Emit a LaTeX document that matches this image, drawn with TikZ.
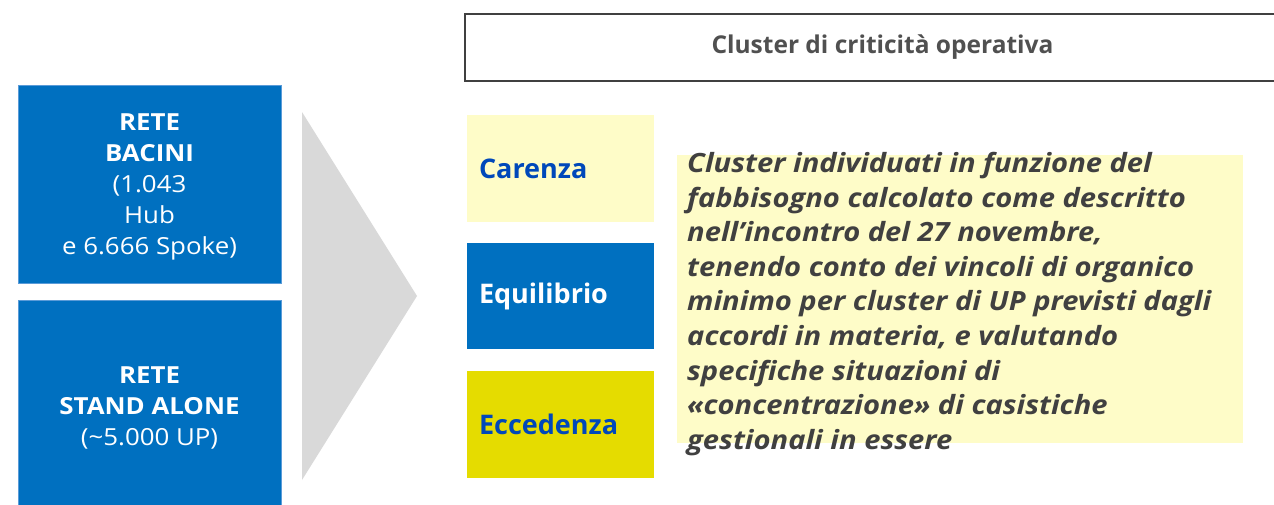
\documentclass[tikz,border=0pt]{standalone}
\usepackage{fontspec}
\setmainfont{Open Sans}
\newfontfamily\titlefont{Open Sans}
\newfontfamily\widefont[FakeStretch=1.1]{Open Sans}
\definecolor{boxblue}{HTML}{0070C0}
\definecolor{edgeblue}{HTML}{5A9BD8}
\definecolor{lblblue}{HTML}{0048BA}
\definecolor{paleyellow}{HTML}{FEFCC8}
\definecolor{strongyellow}{HTML}{E5DC00}
\definecolor{arrowgray}{HTML}{D9D9D9}
\definecolor{textgray}{HTML}{404040}
\definecolor{titlegray}{HTML}{505050}
\definecolor{framegray}{HTML}{404040}
\tikzset{
  retebox/.style={fill=boxblue, draw=edgeblue, line width=1pt,
    minimum width=263pt, inner sep=0pt},
  retetext/.style={text=white, inner sep=0pt, align=center,
    font=\widefont\fontsize{23.5}{31}\selectfont},
  clusterbox/.style={minimum width=187pt, text width=163pt, inner xsep=12pt,
    inner ysep=0pt, align=left, font=\fontsize{27}{30}\selectfont\bfseries},
}
\begin{document}
\begin{tikzpicture}[x=1pt,y=-1pt]
\useasboundingbox (0,0) rectangle (1274,504);
% left blue boxes
\node[retebox, minimum height=198pt] (bacini) at (149.5,184) {};
\node[retetext] (bacinitxt) at (149.5,187)
  {\textbf{RETE}\\\textbf{BACINI}\\(1.043\\Hub\\e 6.666 Spoke)};
\node[retebox, minimum height=212pt] (standalone) at (149.5,406) {};
\node[retetext] (standalonetxt) at (149.5,408)
  {\textbf{RETE}\\\textbf{STAND ALONE}\\(\textasciitilde5.000 UP)};
% big gray arrow head
\fill[arrowgray] (302,112) -- (417,296) -- (302,480) -- cycle;
% title frame
\node[draw=framegray, line width=2.5pt, minimum width=835pt, minimum height=67pt,
  inner sep=0pt, text=titlegray, font=\titlefont\fontsize{24.5}{26}\selectfont\bfseries]
  (title) at (882.5,47.5) {Cluster di criticità operativa};
% cluster boxes
\node[clusterbox, fill=paleyellow, text=lblblue, minimum height=107pt] (carenza) at (560.5,168.5) {Carenza};
\node[clusterbox, fill=boxblue, text=white, minimum height=106pt] (equilibrio) at (560.5,296) {Equilibrio};
\node[clusterbox, fill=strongyellow, text=lblblue, minimum height=107pt] (eccedenza) at (560.5,424.5) {Eccedenza};
% description
\node[fill=paleyellow, minimum width=566pt, minimum height=288pt, inner sep=0pt] (descbg) at (960,299) {};
\node[anchor=north west, inner sep=0pt, align=left, text=textgray,
  font=\widefont\fontsize{26.5}{34.6}\selectfont\bfseries\itshape] (desc) at (687,152)
  {Cluster individuati in funzione del\\
   fabbisogno calcolato come descritto\\
   nell’incontro del 27 novembre,\\
   tenendo conto dei vincoli di organico\\
   minimo per cluster di UP previsti dagli\\
   accordi in materia, e valutando\\
   specifiche situazioni di\\
   «concentrazione» di casistiche\\
   gestionali in essere};
\end{tikzpicture}
\end{document}
